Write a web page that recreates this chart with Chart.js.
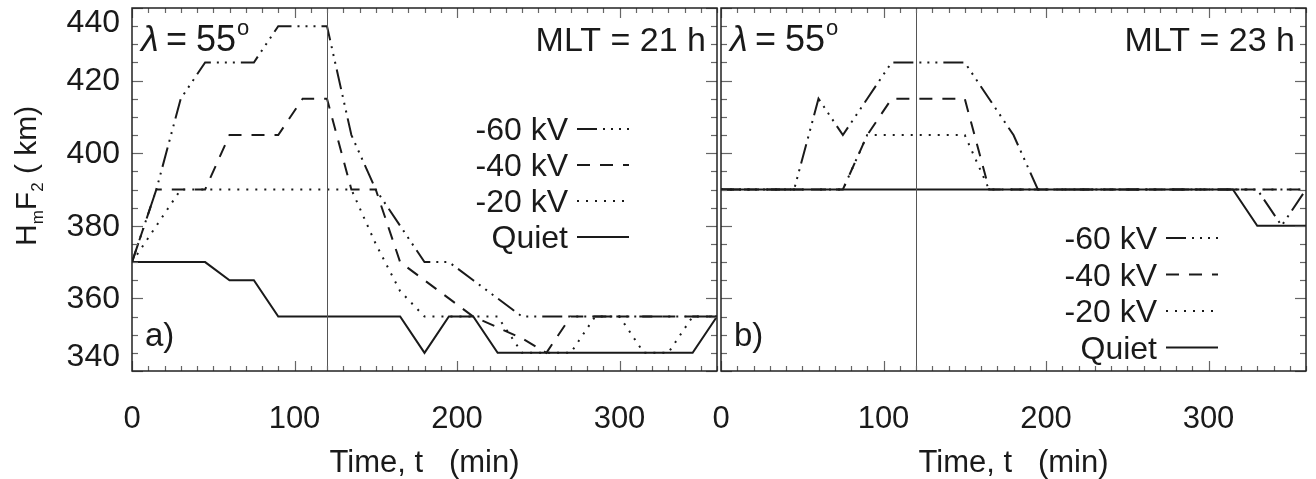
<!DOCTYPE html>
<html>
<head>
<meta charset="utf-8">
<script src="https://cdn.jsdelivr.net/npm/chart.js@4.4.1/dist/chart.umd.min.js"></script>
<style>
  body { margin: 0; background: #fff; }
  #wrap { position: relative; width: 1316px; height: 479px; }
  canvas { position: absolute; left: 0; top: 0; }
</style>
</head>
<body>
<div id="wrap">
  <canvas id="panelA" width="1316" height="479"></canvas>
  <canvas id="panelB" width="1316" height="479"></canvas>
</div>
<script>
// time axis (min), every 15 min
const times = [0, 15, 30, 45, 60, 75, 90, 105, 120, 135, 150, 165, 180,
               195, 210, 225, 240, 255, 270, 285, 300, 315, 330, 345, 360];
const xTickLabels = [0, 100, 200, 300];
const yTickLabels = [340, 360, 380, 400, 420, 440];
const seriesNames = ["-60 kV", "-40 kV", "-20 kV", "Quiet"];

// a) MLT = 21 h, HmF2 in km
const kv60A  = [370, 390, 415, 425, 425, 425, 435, 435, 435, 405, 390, 380, 370,
                370, 365, 360, 355, 355, 355, 355, 355, 355, 355, 355, 355];
const kv40A  = [370, 390, 390, 390, 405, 405, 405, 415, 415, 390, 390, 370, 365,
                360, 355, 352, 349, 345, 355, 355, 355, 355, 355, 355, 355];
const kv20A  = [370, 380, 390, 390, 390, 390, 390, 390, 390, 390, 375, 362, 355,
                355, 355, 355, 345, 345, 345, 355, 355, 345, 345, 355, 355];
const quietA = [370, 370, 370, 370, 365, 365, 355, 355, 355, 355, 355, 355, 345,
                355, 355, 345, 345, 345, 345, 345, 345, 345, 345, 345, 355];

// b) MLT = 23 h
const kv60B  = [390, 390, 390, 390, 415, 405, 415, 425, 425, 425, 425, 415, 405,
                390, 390, 390, 390, 390, 390, 390, 390, 390, 390, 380, 390];
const kv40B  = [390, 390, 390, 390, 390, 390, 405, 415, 415, 415, 415, 390, 390,
                390, 390, 390, 390, 390, 390, 390, 390, 390, 390, 390, 390];
const kv20B  = [390, 390, 390, 390, 390, 390, 405, 405, 405, 405, 405, 390, 390,
                390, 390, 390, 390, 390, 390, 390, 390, 390, 390, 390, 390];
const quietB = [390, 390, 390, 390, 390, 390, 390, 390, 390, 390, 390, 390, 390,
                390, 390, 390, 390, 390, 390, 390, 390, 390, 380, 380, 380];

const FONT = "'Liberation Sans', Arial, Helvetica, sans-serif";
const INK = "#1a1a1a";
const dashes = [[20, 6, 2, 6, 2, 6, 2, 6], [13, 10], [2, 7], []];

function makeSets(lists) {
  return lists.map(function (vals, i) {
    return {
      label: seriesNames[i],
      data: times.map(function (t, k) { return { x: t, y: vals[k] }; }),
      borderColor: INK,
      borderWidth: 2,
      borderDash: dashes[i],
      pointRadius: 0,
      tension: 0,
      fill: false,
    };
  });
}

function line(ctx, x1, y1, x2, y2) {
  ctx.beginPath(); ctx.moveTo(x1, y1); ctx.lineTo(x2, y2); ctx.stroke();
}

// frame, inward ticks, marker line at t = 120 and the text annotations
const framePlugin = {
  id: "frame",
  afterDraw(chart, args, o) {
    const ctx = chart.ctx, a = chart.chartArea;
    const xs = chart.scales.x, ys = chart.scales.y;
    ctx.save();

    ctx.strokeStyle = "#555"; ctx.lineWidth = 1;
    const xv = Math.round(xs.getPixelForValue(120)) + 0.5;
    line(ctx, xv, a.top, xv, a.bottom);

    ctx.strokeStyle = "#666"; ctx.lineWidth = 1.2;
    for (let t = 0; t <= 360; t += 10) {
      const px = Math.round(xs.getPixelForValue(t)) + 0.5;
      const len = t % 100 === 0 ? 10 : 5;
      line(ctx, px, a.bottom, px, a.bottom - len);
      line(ctx, px, a.top, px, a.top + len);
    }
    for (let v = 340; v <= 440; v += 5) {
      const py = Math.round(ys.getPixelForValue(v)) + 0.5;
      const len = v % 20 === 0 ? 11 : 6;
      line(ctx, a.left, py, a.left + len, py);
      line(ctx, a.right, py, a.right - len, py);
    }

    ctx.strokeStyle = "#222"; ctx.lineWidth = 1.5;
    ctx.strokeRect(a.left, a.top, a.right - a.left, a.bottom - a.top);

    ctx.fillStyle = INK;
    ctx.textBaseline = "alphabetic";

    // y tick labels on the left panel only
    if (o.showY) {
      ctx.font = "32px " + FONT;
      ctx.textAlign = "right";
      ctx.textBaseline = "middle";
      yTickLabels.forEach(function (v) {
        let py = ys.getPixelForValue(v);
        py = Math.min(Math.max(py, a.top + 14), a.bottom - 15);
        ctx.fillText(String(v), a.left - 12, py + 1);
      });
      // y title  HmF2 ( km)
      ctx.save();
      ctx.translate(36, 246);
      ctx.rotate(-Math.PI / 2);
      ctx.textAlign = "left"; ctx.textBaseline = "alphabetic";
      let cx = 0;
      const big = "30px " + FONT, small = "17px " + FONT;
      [["H", big, 0], ["m", small, 7], ["F", big, 0], ["2", small, 7], [" ( km)", big, 0]]
        .forEach(function (p) {
          ctx.font = p[1];
          ctx.fillText(p[0], cx, p[2]);
          cx += ctx.measureText(p[0]).width;
        });
      ctx.restore();
    }

    // x title
    ctx.font = "31px " + FONT;
    ctx.textAlign = "center"; ctx.textBaseline = "middle";
    ctx.fillText("Time, t   (min)", (a.left + a.right) / 2, 463);

    // lambda = 55 deg
    ctx.textBaseline = "alphabetic"; ctx.textAlign = "left";
    ctx.font = "italic 36px " + FONT;
    ctx.fillText("\u03bb", a.left + 9, 51);
    ctx.font = "36px " + FONT;
    ctx.fillText("=", a.left + 34, 51);
    ctx.fillText("55", a.left + 64, 51);
    ctx.font = "22px " + FONT;
    ctx.fillText("o", a.left + 105, 35);

    // MLT
    ctx.font = "34px " + FONT;
    ctx.textAlign = "right";
    ctx.fillText("MLT = " + o.mlt + " h", a.right - 11, 51);

    // panel tag
    ctx.textAlign = "left";
    ctx.font = "33px " + FONT;
    ctx.fillText(o.tag, a.left + 13, 346);

    // legend
    chart.data.datasets.forEach(function (ds, i) {
      const ly = o.legendY + i * o.legendStep;
      ctx.font = "32px " + FONT;
      ctx.textAlign = "right";
      ctx.fillText(ds.label, o.legendX, ly + 11);
      ctx.strokeStyle = INK; ctx.lineWidth = 2;
      ctx.setLineDash(ds.borderDash);
      line(ctx, o.legendX + 9, ly, o.legendX + 61, ly);
      ctx.setLineDash([]);
    });

    ctx.restore();
  }
};

function makeChart(id, lists, leftW, rightPad, opts) {
  return new Chart(document.getElementById(id), {
    type: "line",
    data: { datasets: makeSets(lists) },
    plugins: [framePlugin],
    options: {
      responsive: false,
      animation: false,
      devicePixelRatio: 1,
      layout: { padding: { top: 8, right: rightPad, left: 0, bottom: 0 } },
      plugins: { legend: { display: false }, tooltip: { enabled: false }, frame: opts },
      scales: {
        x: {
          type: "linear", min: 0, max: 360, position: "bottom",
          grid: { display: false, drawTicks: false },
          border: { display: false },
          ticks: { font: { family: FONT, size: 31 }, color: INK, padding: 30 },
          afterBuildTicks: function (s) { s.ticks = xTickLabels.map(function (v) { return { value: v }; }); },
          afterFit: function (s) { s.height = 108; },
        },
        y: {
          type: "linear", min: 340, max: 440,
          grid: { display: false, drawTicks: false },
          border: { display: false },
          ticks: { display: false },
          afterFit: function (s) { s.width = leftW; },
        },
      },
    },
  });
}

makeChart("panelA", [kv60A, kv40A, kv20A, quietA], 132, 1316 - 717,
  { showY: true, mlt: "21", tag: "a)", legendX: 568, legendY: 129, legendStep: 36 });
makeChart("panelB", [kv60B, kv40B, kv20B, quietB], 721, 1316 - 1306,
  { showY: false, mlt: "23", tag: "b)", legendX: 1157, legendY: 238, legendStep: 36.5 });
</script>
</body>
</html>
